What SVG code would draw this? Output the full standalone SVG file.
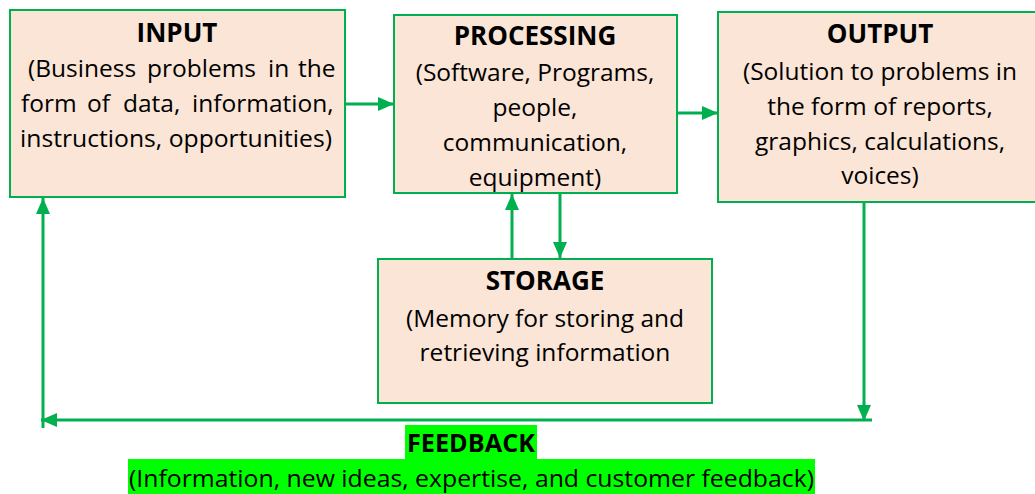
<svg xmlns="http://www.w3.org/2000/svg" width="1035" height="494" viewBox="0 0 1035 494">
  <defs>
    <marker id="arr" markerUnits="userSpaceOnUse" markerWidth="18" markerHeight="16" refX="16" refY="7" orient="auto">
      <path d="M0,0 L16,7 L0,14 z" fill="#00B050"/>
    </marker>
    <style>
      .box { fill: #FBE5D6; stroke: #00B050; stroke-width: 2; }
      .title { font-family: "Open Sans", "Noto Sans", sans-serif; font-weight: bold; font-size: 26px; fill: #000; text-anchor: middle; }
      .body { font-family: "Open Sans", "Noto Sans", sans-serif; font-size: 24.5px; fill: #000; }
      .mid { text-anchor: middle; }
      .conn { stroke: #00B050; stroke-width: 3; fill: none; }
      .hl { fill: #00FF00; }
      .fb { font-family: "Open Sans", "Noto Sans", sans-serif; fill: #000; }
    </style>
  </defs>

  <g id="input">
    <rect class="box" x="10" y="10" width="335" height="187"/>
    <text class="title" x="177" y="42">INPUT</text>
    <text class="body" y="77"><tspan x="28">(Business</tspan><tspan x="147">problems</tspan><tspan x="268">in</tspan><tspan x="298">the</tspan></text>
    <text class="body" y="112"><tspan x="21">form</tspan><tspan x="87">of</tspan><tspan x="123">data,</tspan><tspan x="192">information,</tspan></text>
    <text class="body" x="20" y="147" textLength="312" lengthAdjust="spacingAndGlyphs">instructions, opportunities)</text>
  </g>

  <g id="processing">
    <rect class="box" x="394" y="15" width="283" height="178"/>
    <text class="title" x="535" y="45">PROCESSING</text>
    <text class="body mid" x="535" y="81">(Software, Programs,</text>
    <text class="body mid" x="535" y="116">people,</text>
    <text class="body mid" x="535" y="151">communication,</text>
    <text class="body mid" x="535" y="186">equipment)</text>
  </g>

  <g id="output">
    <rect class="box" x="718" y="12" width="330" height="190"/>
    <text class="title" x="880" y="43">OUTPUT</text>
    <text class="body mid" x="880" y="80">(Solution to problems in</text>
    <text class="body mid" x="880" y="115">the form of reports,</text>
    <text class="body mid" x="880" y="150">graphics, calculations,</text>
    <text class="body mid" x="880" y="184">voices)</text>
  </g>

  <g id="storage">
    <rect class="box" x="378" y="259" width="334" height="144"/>
    <text class="title" x="545" y="290">STORAGE</text>
    <text class="body mid" x="545" y="327">(Memory for storing and</text>
    <text class="body mid" x="545" y="361">retrieving information</text>
  </g>

  <g id="connectors">
    <line class="conn" x1="346" y1="104" x2="394" y2="104" marker-end="url(#arr)"/>
    <line class="conn" x1="677" y1="113" x2="718" y2="113" marker-end="url(#arr)"/>
    <line class="conn" x1="512" y1="258" x2="512" y2="194" marker-end="url(#arr)"/>
    <line class="conn" x1="560" y1="194" x2="560" y2="258" marker-end="url(#arr)"/>
    <line class="conn" x1="864" y1="202" x2="864" y2="421" marker-end="url(#arr)"/>
    <line class="conn" x1="872" y1="420" x2="41" y2="420" stroke-width="4" marker-end="url(#arr)"/>
    <line class="conn" x1="43" y1="428" x2="43" y2="198" marker-end="url(#arr)"/>
  </g>

  <g id="feedback">
    <rect class="hl" x="405" y="425" width="132" height="34"/>
    <text class="fb" x="407" y="452" font-weight="bold" font-size="25" textLength="128" lengthAdjust="spacingAndGlyphs">FEEDBACK</text>
    <rect class="hl" x="128" y="459" width="687" height="35"/>
    <text class="fb" x="129" y="487" font-size="23" textLength="685" lengthAdjust="spacingAndGlyphs">(Information, new ideas, expertise, and customer feedback)</text>
  </g>
</svg>
